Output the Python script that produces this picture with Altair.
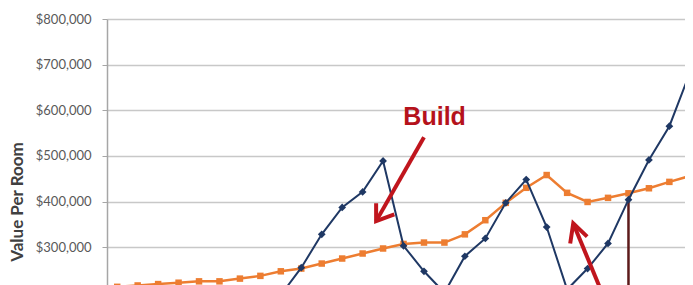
import altair as alt
import pandas as pd

# category index (years, labels off-screen)
idx = list(range(29))
blue_vals = [190000, 185000, 180000, 176000, 172000, 170000, 168000, 175000, 195000,
             255000, 328000, 387000, 421000, 489000, 303000, 247000, 200000, 280000,
             319000, 397000, 448000, 344000, 207000, 253000, 308000, 404000, 491000,
             565000, 682000]
orange_vals = [213000, 216000, 219000, 222000, 225000, 225000, 231000, 237000, 247000,
               253000, 264000, 275000, 286000, 297000, 307000, 310000, 310000, 328000,
               359000, 397000, 430000, 458000, 419000, 399000, 408000, 418000, 429000,
               443000, 456000]

# annotation arrows (data coordinates: index, value)
arrow_id = ["a1"] * 3 + ["a1w"] * 3 + ["a2"] * 2 + ["a2w"] * 3
arrow_x = [15.0, 12.66, 12.66, 12.66, 12.66, 13.55, 23.75, 22.3, 22.15, 22.3, 22.98]
arrow_y = [541000, 357000, 357000, 396000, 357000, 372000, 195000, 352000, 308000, 352000, 323000]
arrow_ord = [0, 1, 2, 0, 1, 2, 0, 1, 0, 1, 2]

label_text = ["Build"]
label_x = [15.52]
label_y = [586000]

rule_x = [25]
rule_top = [404000]
rule_bottom = [0]

df = pd.DataFrame({"i": idx, "blue": blue_vals, "orange": orange_vals})
arrows = pd.DataFrame({"id": arrow_id, "x": arrow_x, "y": arrow_y, "o": arrow_ord})
labels = pd.DataFrame({"t": label_text, "x": label_x, "y": label_y})
rules = pd.DataFrame({"x": rule_x, "top": rule_top, "bottom": rule_bottom})

W = 578
xscale = alt.Scale(domain=[-0.5, -0.5 + W / 20.45], nice=False, zero=False)
yscale = alt.Scale(domain=[0, 800000], nice=False)

yaxis = alt.Axis(
    values=[0, 100000, 200000, 300000, 400000, 500000, 600000, 700000, 800000],
    format="$,.0f", labelFont="Lato", labelFontSize=13, labelColor="#595959",
    title="Value Per Room", titleFont="Lato", titleFontSize=17, titleFontWeight="bold",
    titleColor="#404040", titlePadding=9,
    tickSize=5, tickColor="#a6a6a6", domainColor="#a6a6a6", domainWidth=1.5,
    labelPadding=11, grid=True, gridColor="#c8c8c8", gridWidth=1.5,
)


def X(field):
    return alt.X(field, scale=xscale, axis=None)


def Y(field):
    return alt.Y(field, scale=yscale, axis=yaxis)


rule_layer = alt.Chart(rules).mark_rule(color="#5c1a1a", strokeWidth=2.5).encode(
    x=X("x:Q"), y=Y("top:Q"), y2="bottom:Q",
)

orange_layer = alt.Chart(df).mark_line(
    color="#ed7d31", strokeWidth=2.5,
    point=alt.OverlayMarkDef(shape="square", size=42, color="#ed7d31", filled=True, opacity=1),
).encode(x=X("i:Q"), y=Y("orange:Q"))

blue_layer = alt.Chart(df).mark_line(
    color="#1f3864", strokeWidth=2,
    point=alt.OverlayMarkDef(shape="diamond", size=60, color="#1f3864", filled=True, opacity=1),
).encode(x=X("i:Q"), y=Y("blue:Q"))

arrow_layer = alt.Chart(arrows).mark_line(
    color="#c0151d", strokeWidth=4, strokeCap="butt", strokeJoin="miter"
).encode(
    x=X("x:Q"), y=Y("y:Q"),
    detail="id:N",
    order="o:Q",
)

text_layer = alt.Chart(labels).mark_text(
    font="Liberation Sans", fontSize=25, fontWeight="bold", color="#b5121b",
    baseline="middle", align="center",
).encode(x=X("x:Q"), y=Y("y:Q"), text="t:N")

chart = alt.layer(
    orange_layer, rule_layer, blue_layer, arrow_layer, text_layer
).properties(
    width=W, height=365,
    autosize=alt.AutoSizeParams(type="none"),
    padding={"left": 99, "top": 11, "right": 0, "bottom": 0},
    background="white",
).configure_view(stroke=None)

chart.save("out.html", embed_options={"renderer": "svg", "actions": False})
